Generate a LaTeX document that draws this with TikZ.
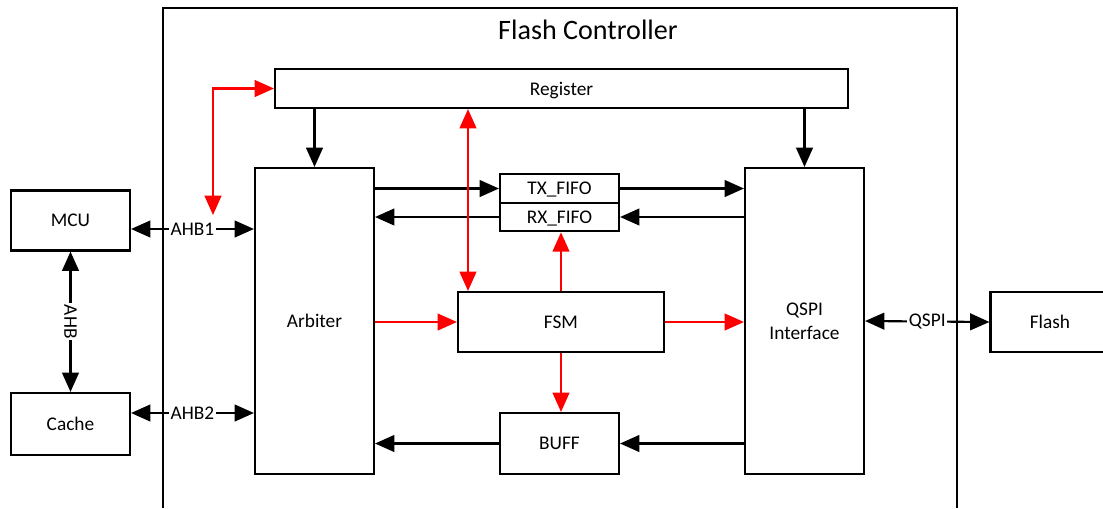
\documentclass[tikz,border=0pt]{standalone}
\usepackage{fontspec}
\setmainfont{Carlito}
\usetikzlibrary{arrows.meta,positioning,calc}

\begin{document}
\begin{tikzpicture}[x=0.02cm,y=-0.02cm,
    >={Triangle[length=11pt,width=9.5pt]},
    blk/.style={draw,line width=1.2pt,inner sep=0pt,align=center,text depth=0pt,font=\fontsize{11}{13.5}\selectfont},
    wire/.style={line width=1.2pt},
    ctl/.style={line width=1.2pt,red},
    lbl/.style={fill=white,inner sep=1pt,font=\fontsize{11}{13}\selectfont}]
                        \useasboundingbox (0,0) rectangle (1103,508);
                        \draw[line width=1.2pt] (163,508) -- (163,8) -- (957,8) -- (957,508);
                        \node[font=\fontsize{16}{19}\selectfont] (title) at (588,30) {Flash Controller};
                        \node[blk,minimum width=11.46cm,minimum height=0.78cm] (reg) at (561.5,88.5) {Register};
                        \node[blk,minimum width=2.38cm,minimum height=6.12cm] (arb) at (314.5,321) {Arbiter};
                        \node[blk,minimum width=2.38cm,minimum height=6.12cm] (qspi) at (804.5,321) {QSPI\\Interface};
                        \node[blk,minimum width=2.38cm,minimum height=0.57cm] (tx) at (559.5,188.5) {TX\_FIFO};
                        \node[blk,minimum width=2.38cm,minimum height=0.57cm] (rx) at (559.5,217) {RX\_FIFO};
                        \node[blk,minimum width=4.12cm,minimum height=1.2cm] (fsm) at (561,322) {FSM};
                        \node[blk,minimum width=2.38cm,minimum height=1.22cm] (buff) at (559.5,443.5) {BUFF};
                        \node[blk,minimum width=2.38cm,minimum height=1.2cm] (mcu) at (70.5,220.5) {MCU};
                        \node[blk,minimum width=2.38cm,minimum height=1.24cm] (cache) at (70.5,424) {Cache};
                        \node[blk,minimum width=2.38cm,minimum height=1.2cm] (flash) at (1050,322) {Flash};
                        \draw[wire,->] (reg.south -| arb) -- (arb.north);
                        \draw[wire,->] (reg.south -| qspi) -- (qspi.north);
                        \draw[wire,->] (arb.east |- tx) -- (tx.west);
                        \draw[wire,->] (tx.east) -- (qspi.west |- tx);
                        \draw[wire,->] (qspi.west |- rx) -- (rx.east);
                        \draw[wire,->] (rx.west) -- (arb.east |- rx);
                        \draw[wire,->] (qspi.west |- buff) -- (buff.east);
                        \draw[wire,->] (buff.west) -- (arb.east |- buff);
                        \draw[ctl,->] (arb.east |- fsm) -- (fsm.west);
                        \draw[ctl,->] (fsm.east) -- (qspi.west |- fsm);
                        \draw[ctl,->] (fsm.north) -- (fsm.north |- rx.south);
                        \draw[ctl,->] (fsm.south) -- (fsm.south |- buff.north);
                        \coordinate (rf) at (468,0);
                        \draw[ctl,<->] (reg.south -| rf) -- (fsm.north -| rf);
                        \coordinate (rtip) at (213,215);
                        \draw[ctl,<->] (rtip) |- (reg.west);
                        \coordinate (ahbone) at (0,229);
                        \coordinate (ahbtwo) at (0,413);
                        \draw[wire,<->] (mcu.east |- ahbone) -- node[lbl] (lone) {AHB1} (arb.west |- ahbone);
                        \draw[wire,<->] (cache.east |- ahbtwo) -- node[lbl] (ltwo) {AHB2} (arb.west |- ahbtwo);
                        \draw[wire,<->] (mcu.south) -- node[lbl,rotate=-90] (lahb) {AHB} (cache.north);
                        \draw[wire,<->] (qspi.east) -- node[lbl] (lqspi) {QSPI} (flash.west);
                    \end{tikzpicture}
\end{document}
